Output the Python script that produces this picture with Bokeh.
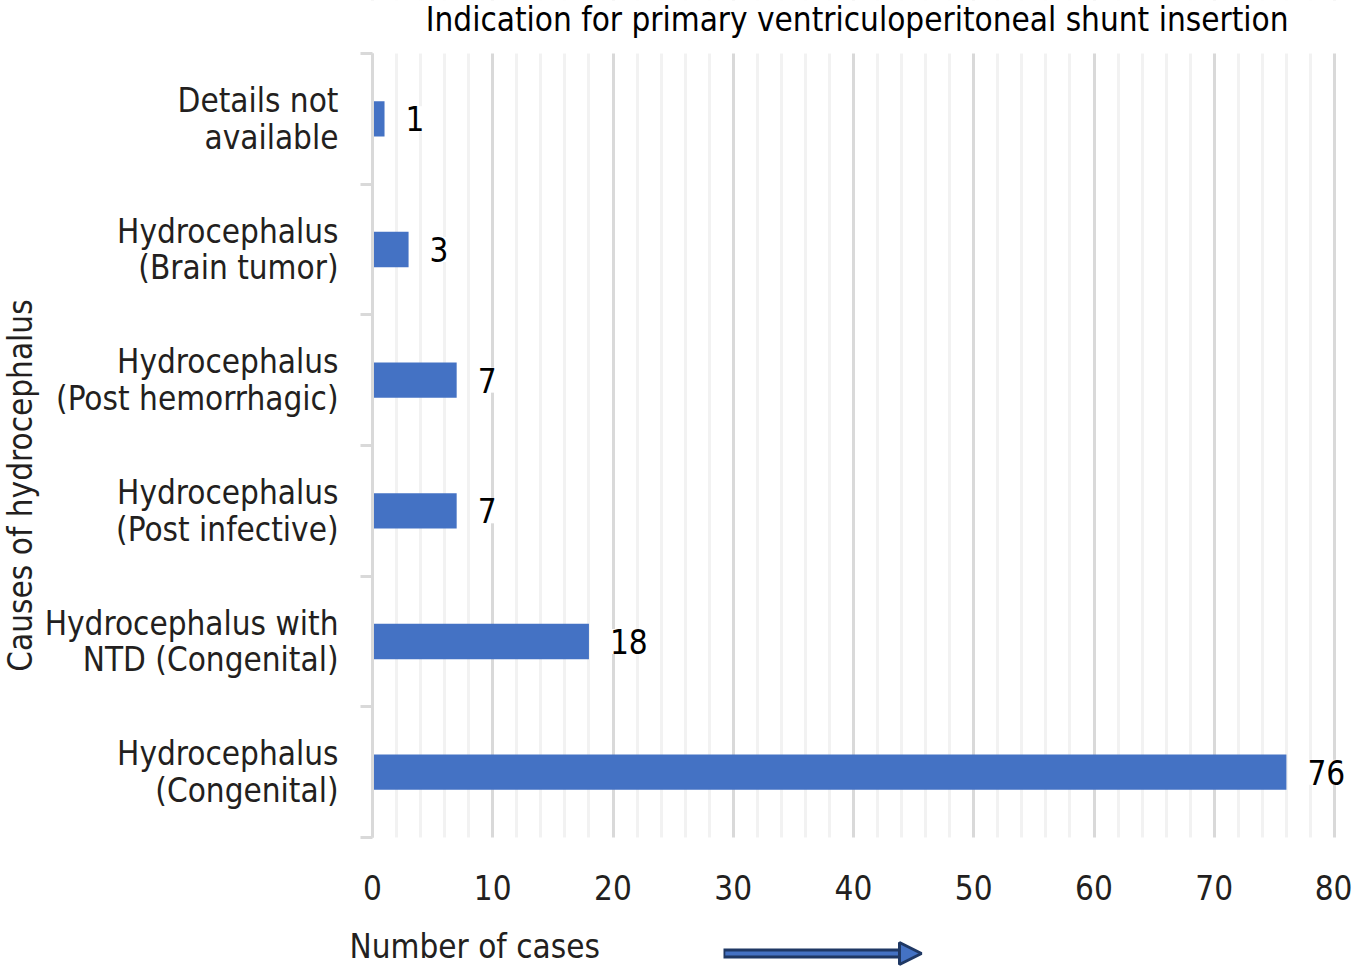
import math
from bokeh.plotting import figure
from bokeh.models import (Range1d, FixedTicker, SingleIntervalTicker, ColumnDataSource,
                          LabelSet, Arrow, NormalHead, BoxAnnotation)
from bokeh.core.properties import value
from bokeh.embed import file_html
from bokeh.resources import INLINE

# ---- data ----
categories = [
    "Hydrocephalus\n(Congenital)",
    "Hydrocephalus with\nNTD (Congenital)",
    "Hydrocephalus\n(Post infective)",
    "Hydrocephalus\n(Post hemorrhagic)",
    "Hydrocephalus\n(Brain tumor)",
    "Details not\navailable",
]
cases = [76, 18, 7, 7, 3, 1]
x_min, x_max = 0, 80
title_text = "Indication for primary ventriculoperitoneal shunt insertion"
x_label = "Number of cases"
y_label = "Causes of hydrocephalus"

# ---- styling / layout ----
FONT = "DejaVu Sans Condensed"
FS = "33px"
BAR = "#4472c4"
NAVY = "#1f3864"
GRID_MAJOR = "#d9d9d9"
GRID_MINOR = "#f2f2f2"
TXT = "#231f20"

W, H = 1352, 968
X0_PX, X80_PX = 372, 1334      # pixel columns of 0 and 80 cases
Y_TOP_PX, Y_BOT_PX = 53, 837   # pixel rows of the category band
n = len(categories)
PX = (X80_PX - X0_PX) / (x_max - x_min)
PY = (Y_BOT_PX - Y_TOP_PX) / n


def dx(px):  # canvas pixel column -> data x
    return x_min + (px - X0_PX) / PX


def dy(py):  # canvas pixel row -> data y
    return (Y_BOT_PX - py) / PY


ypos = [i + 0.5 for i in range(n)]
src = ColumnDataSource(dict(y=ypos, cases=cases, lab=[str(c) for c in cases]))

p = figure(width=W, height=H, min_border=0,
           x_range=Range1d(dx(0), dx(W)), y_range=Range1d(dy(H), dy(0)),
           output_backend="svg", toolbar_location=None)
p.outline_line_color = None
p.background_fill_color = "white"

# grid (vertical lines only inside the category band)
p.xgrid.ticker = SingleIntervalTicker(interval=10, num_minor_ticks=5)
p.xgrid.bounds = (x_min, x_max)
p.xgrid.grid_line_color = GRID_MAJOR
p.xgrid.grid_line_width = 3
p.xgrid.minor_grid_line_color = GRID_MINOR
p.xgrid.minor_grid_line_width = 3
p.ygrid.grid_line_color = None
p.add_layout(BoxAnnotation(top=0, fill_color="white", fill_alpha=1, line_color=None,
                           level="underlay"))
p.add_layout(BoxAnnotation(bottom=n, fill_color="white", fill_alpha=1, line_color=None,
                           level="underlay"))

p.hbar(y="y", left=0, right="cases", height=0.27, source=src, fill_color=BAR, line_color=None)

# x axis
p.xaxis.fixed_location = 0
p.xaxis.bounds = (x_min, x_max)
p.xaxis.ticker = SingleIntervalTicker(interval=10, num_minor_ticks=5)
p.xaxis.axis_line_color = None
p.xaxis.major_tick_line_color = None
p.xaxis.minor_tick_line_color = None
p.xaxis.major_tick_out = 0
p.xaxis.minor_tick_out = 0
p.xaxis.major_label_standoff = 37
p.xaxis.major_label_text_font = FONT
p.xaxis.major_label_text_font_size = FS
p.xaxis.major_label_text_color = TXT

# y axis: labels at category centres, tick marks between categories
p.yaxis.fixed_location = 0
p.yaxis.bounds = (0, n)
p.yaxis.ticker = FixedTicker(ticks=ypos, minor_ticks=list(range(n + 1)))
p.yaxis.major_label_overrides = {y: c for y, c in zip(ypos, categories)}
p.yaxis.axis_line_color = GRID_MAJOR
p.yaxis.axis_line_width = 3
p.yaxis.major_tick_line_color = None
p.yaxis.major_tick_out = 0
p.yaxis.major_tick_in = 0
p.yaxis.minor_tick_line_color = GRID_MAJOR
p.yaxis.minor_tick_line_width = 3
p.yaxis.minor_tick_out = 12
p.yaxis.minor_tick_in = 0
p.yaxis.major_label_standoff = 22
p.yaxis.major_label_text_font = FONT
p.yaxis.major_label_text_font_size = FS
p.yaxis.major_label_text_color = TXT
p.yaxis.major_label_text_line_height = 0.94

# value labels
labels = LabelSet(x="cases", y="y", text="lab", source=src, x_offset=21,
                  text_baseline="middle", text_align="left",
                  text_font=value(FONT), text_font_size=value(FS), text_color="black",
                  background_fill_color="white")
p.add_layout(labels)

# titles (as text in the canvas)
p.text(x=[dx(1288)], y=[dy(19)], text=[title_text], text_font=value(FONT),
       text_font_size=FS, text_color="black", text_align="right", text_baseline="middle")
p.text(x=[dx(20)], y=[dy(485)], text=[y_label], angle=math.pi / 2, text_font=value(FONT),
       text_font_size=FS, text_color=TXT, text_align="center", text_baseline="middle")
p.text(x=[dx(349)], y=[dy(946)], text=[x_label], text_font=value(FONT),
       text_font_size=FS, text_color=TXT, text_align="left", text_baseline="middle")

# decorative arrow next to the x axis title
AX0, AX1, AY = dx(723), dx(921), dy(953)
HEAD = 1.1
p.add_layout(Arrow(end=None, x_start=AX0, y_start=AY, x_end=AX1 - HEAD, y_end=AY,
                   line_color=NAVY, line_width=10))
p.add_layout(Arrow(end=None, x_start=AX0 + 0.15, y_start=AY, x_end=AX1 - HEAD + 0.1,
                   y_end=AY, line_color=BAR, line_width=4))
p.add_layout(Arrow(end=NormalHead(size=22, fill_color=BAR, line_color=NAVY, line_width=3),
                   x_start=AX1 - HEAD, y_start=AY, x_end=AX1, y_end=AY,
                   line_color=None, line_width=0))

open("out.html", "w").write(file_html(p, INLINE))
